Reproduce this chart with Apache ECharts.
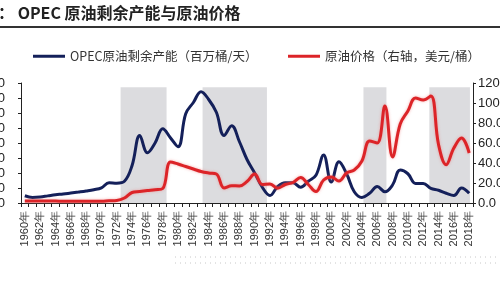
<!DOCTYPE html>
<html><head><meta charset="utf-8">
<script src="https://cdn.jsdelivr.net/npm/echarts@6/dist/echarts.min.js"></script>
<style>html,body{margin:0;padding:0;background:#fff}#c{width:500px;height:300px}</style>
</head><body><div id="c"></div>
<script>
const years = ['1960','1961','1962','1963','1964','1965','1966','1967','1968','1969',
  '1970','1971','1972','1973','1974','1975','1976','1977','1978','1979',
  '1980','1981','1982','1983','1984','1985','1986','1987','1988','1989',
  '1990','1991','1992','1993','1994','1995','1996','1997','1998','1999',
  '2000','2001','2002','2003','2004','2005','2006','2007','2008','2009',
  '2010','2011','2012','2013','2014','2015','2016','2017','2018'];
const opecSpare = [0.97,0.75,0.8,0.95,1.1,1.2,1.33,1.46,1.6,1.77,
  2.03,2.7,2.65,2.9,5.0,9.0,6.7,8.0,9.9,8.7,
  7.5,11.9,13.4,14.85,13.8,12.1,9.0,10.3,8.2,5.8,
  4.0,2.1,1.0,2.2,2.7,2.7,2.1,2.9,3.7,6.4,
  2.8,5.5,3.9,1.5,0.75,1.3,2.2,1.5,2.4,4.4,
  3.9,2.6,2.6,1.95,1.7,1.3,1.0,2.0,1.3];
const oilPrice = [1.9,1.9,1.9,1.9,1.9,1.8,1.8,1.8,1.8,1.8,
  1.8,2.2,2.5,5.0,10.5,11.5,12.4,13.2,14.5,41,
  39,36.5,34,31.5,30,29,15,17.3,17,21.5,
  29,18.5,19,14.8,18.5,20.5,25.5,18.5,11.5,23,
  26,22,30,33,42,62,60,97,46,79,
  92,105,103,107,58.5,38.3,55,65,50];
const shadeStart = [1972.5, 1983.2, 2004.2, 2012.8];
const shadeEnd   = [1978.5, 1991.6, 2007.2, 2018.1];
const seriesNames = ['OPEC原油剩余产能（百万桶/天）', '原油价格（右轴，美元/桶）'];
const titleText = '图： OPEC 原油剩余产能与原油价格';

const chart = echarts.init(document.getElementById('c'));
const shadeData = shadeStart.map((s, i) => [{xAxis: s, yAxis: 0}, {xAxis: shadeEnd[i], yAxis: 15.45}]);
const axisFont = 'Liberation Sans';
chart.setOption({
  animation: false,
  backgroundColor: '#fff',
  graphic: [
    {type: 'text', x: -18, y: 5, style: {text: titleText, fontSize: 16, fontWeight: 'bold', fontFamily: 'Noto Sans CJK SC', fill: '#222'}},
    {type: 'line', shape: {x1: 0, y1: 27, x2: 500, y2: 27}, style: {stroke: '#333', lineWidth: 2}},
    {type: 'line', shape: {x1: 175, y1: 257, x2: 500, y2: 257}, style: {stroke: '#c8c8c8', lineWidth: 1, lineDash: [1, 4]}},
    {type: 'line', shape: {x1: 175, y1: 263, x2: 500, y2: 263}, style: {stroke: '#c8c8c8', lineWidth: 1, lineDash: [1, 4]}}
  ],
  legend: [
    {data: [seriesNames[0]], left: 28, top: 45, icon: 'rect', itemWidth: 32, itemHeight: 3,
     textStyle: {fontSize: 12.5, color: '#333', fontFamily: 'Noto Sans CJK SC'}},
    {data: [seriesNames[1]], left: 283, top: 45, icon: 'rect', itemWidth: 32, itemHeight: 3,
     textStyle: {fontSize: 12.5, color: '#333', fontFamily: 'Noto Sans CJK SC'}}
  ],
  grid: {left: 21, right: 27, top: 83, bottom: 97, containLabel: false, outerBoundsMode: 'none'},
  xAxis: [
    {type: 'category', data: years, boundaryGap: true,
     axisLine: {lineStyle: {color: '#222', width: 1}},
     axisTick: {show: true, interval: 0, length: 4, lineStyle: {color: '#222'}},
     axisLabel: {interval: 1, rotate: 90, margin: 8, fontSize: 11, color: '#333', fontFamily: axisFont,
       formatter: v => v + '年'}},
    {type: 'value', min: 1959.5, max: 2018.5, show: false}
  ],
  yAxis: [
    {type: 'value', min: 0, max: 16, interval: 2, position: 'left',
     axisLine: {show: true, lineStyle: {color: '#222'}},
     axisTick: {show: true, length: 3, lineStyle: {color: '#222'}},
     splitLine: {show: false},
     axisLabel: {margin: 16, fontSize: 13, color: '#222', fontFamily: axisFont, formatter: v => v.toFixed(1)}},
    {type: 'value', min: 0, max: 120, interval: 20, position: 'right',
     axisLine: {show: true, lineStyle: {color: '#222'}},
     axisTick: {show: true, length: 3, lineStyle: {color: '#222'}},
     splitLine: {show: false},
     axisLabel: {margin: 5, fontSize: 13, color: '#222', fontFamily: axisFont, formatter: v => v.toFixed(1)}}
  ],
  series: [
    {type: 'line', name: 'shade', xAxisIndex: 1, yAxisIndex: 0, data: [], silent: true, z: 1,
     markArea: {silent: true, itemStyle: {color: '#dcdcdf'}, data: shadeData}},
    {type: 'line', name: seriesNames[0], xAxisIndex: 0, yAxisIndex: 0, data: opecSpare,
     smooth: 0.4, symbol: 'none', z: 3,
     lineStyle: {color: '#14205a', width: 3}, itemStyle: {color: '#14205a'}},
    {type: 'line', name: seriesNames[1], xAxisIndex: 0, yAxisIndex: 1, data: oilPrice,
     smooth: 0.4, symbol: 'none', z: 4,
     lineStyle: {color: '#dc2428', width: 3, shadowColor: 'rgba(240,120,120,0.6)', shadowBlur: 3}, itemStyle: {color: '#dc2428'}}
  ]
});
</script></body></html>
